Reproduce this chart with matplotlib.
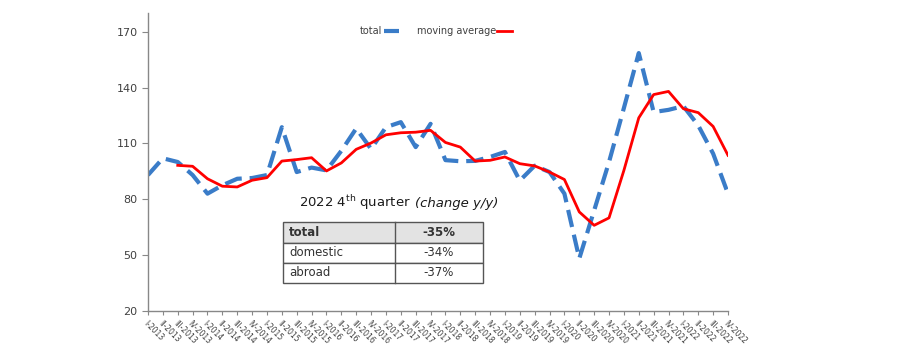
import matplotlib
matplotlib.use("Agg")
import matplotlib.pyplot as plt
import numpy as np

years = list(range(2013, 2023))
quarters = ["I", "II", "III", "IV"]
labels = [f"{q}-{y}" for y in years for q in quarters]

total = [93, 102, 100, 93, 83, 87.5, 91, 91.4, 93, 118.7,
         94.6, 97, 95.5, 106, 118, 107, 118.7, 121.4, 108, 120.5,
         101, 100.4, 100.6, 102.7, 105.4, 90, 98, 94.6, 83, 48.2,
         74, 100, 129, 158.5, 126.8, 128, 130, 119.6, 104.5, 83]

moving_avg = [None, None, 98.2, 97.7, 91, 87, 86.6, 90.2, 91.6, 100.5,
              101.3, 102.3, 95.2, 99.5, 106.8, 110.2, 114.6, 115.7, 116, 117,
              110.5, 108, 100.5, 100.9, 102.7, 99.1, 97.9, 94.6, 90.6, 73.2,
              66, 70, 95.5, 123.7, 136.2, 137.9, 128.6, 126.5, 119.1, 103.6]

yticks = [20, 50, 80, 110, 140, 170]

table_title = "2022 4$^{\\mathrm{th}}$ quarter"
table_rows = ["total", "domestic", "abroad"]
table_vals = ["-35%", "-34%", "-37%"]

W, H = 899, 347
fig = plt.figure(figsize=(W / 100, H / 100), dpi=100)
ax = fig.add_axes([148 / W, (H - 311) / H, (728 - 148) / W, (311 - 13) / H])

x = np.arange(len(labels))
ma = np.array([np.nan if v is None else v for v in moving_avg], dtype=float)

ax.plot(x, total, color="#3A7CC8", lw=3, linestyle=(0, (4.2, 1.9)),
        label="total", solid_capstyle="butt", dash_capstyle="butt")
ax.plot(x, ma, color="#FF0000", lw=2, label="moving average")

ax.set_xlim(0, len(labels) - 1)
ax.set_ylim(20, 180)
ax.set_yticks(yticks)
ax.set_xticks(x)
ax.set_xticklabels(labels, rotation=-45, ha="left", va="top",
                   rotation_mode="anchor", fontsize=5.5, color="#404040")
ax.tick_params(axis="y", labelsize=8, colors="#404040", length=4, width=0.8, color="#888888")
ax.tick_params(axis="x", length=3, width=0.8, color="#888888", pad=3)
for s in ["top", "right"]:
    ax.spines[s].set_visible(False)
for s in ["left", "bottom"]:
    ax.spines[s].set_color("#888888")
    ax.spines[s].set_linewidth(1)

leg = ax.legend(loc="upper center", bbox_to_anchor=(0.497, 0.985), ncol=2, frameon=False,
                fontsize=7, markerfirst=False, handlelength=1.6, columnspacing=1.8,
                handletextpad=0.1, labelcolor="#404040")

# table annotation
t1 = fig.text(299 / W, 1 - 203 / H, table_title, ha="left", va="center", fontsize=9.5, color="#1a1a1a")
fig.canvas.draw()
bb = t1.get_window_extent()
fig.text(bb.x1 / W + 4 / W, 1 - 203 / H, "(change y/y)", ha="left", va="center",
         fontsize=9.5, style="italic", color="#1a1a1a")

tx0, tx1, tsplit = 283, 483, 395
row_tops = [222, 242.5, 263, 283]
for i, (name, val) in enumerate(zip(table_rows, table_vals)):
    y0, y1 = row_tops[i], row_tops[i + 1]
    fc = "#E3E3E3" if i == 0 else "white"
    rect = plt.Rectangle((tx0 / W, 1 - y1 / H), (tx1 - tx0) / W, (y1 - y0) / H,
                         transform=fig.transFigure, facecolor=fc, edgecolor="#555555", lw=1)
    fig.add_artist(rect)
    fig.add_artist(plt.Line2D([tsplit / W, tsplit / W], [1 - y0 / H, 1 - y1 / H],
                              transform=fig.transFigure, color="#555555", lw=1))
    ym = 1 - (y0 + y1) / 2 / H
    fw = "bold" if i == 0 else "normal"
    fig.text(289 / W, ym, name, ha="left", va="center", fontsize=8.5, fontweight=fw, color="#333333")
    fig.text((tsplit + tx1) / 2 / W, ym, val, ha="center", va="center", fontsize=8.5,
             fontweight=fw, color="#333333")

fig.savefig("out.png", dpi=100, facecolor="white")
